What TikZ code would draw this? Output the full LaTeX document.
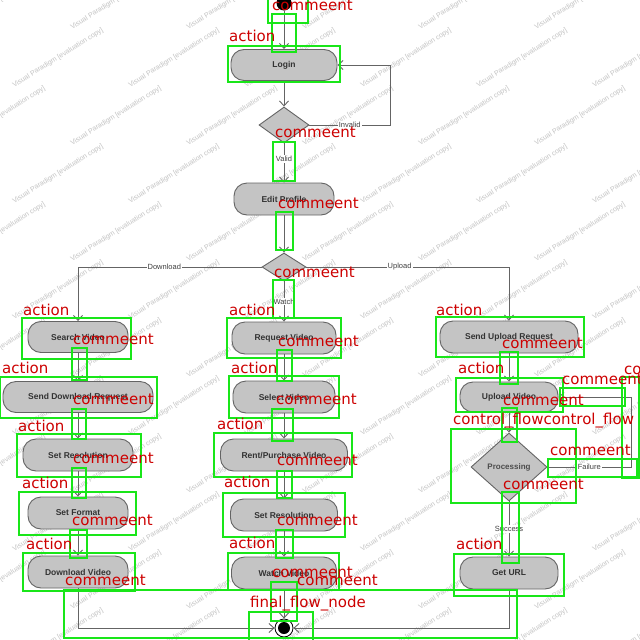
\documentclass[tikz,border=0pt]{standalone}
\usepackage{fontspec}
\setmainfont{Liberation Sans}
\newfontfamily\tagfont{DejaVu Sans}
\usetikzlibrary{arrows.meta,shapes.geometric}
\definecolor{boxgreen}{RGB}{25,230,25}
\definecolor{tagred}{RGB}{205,0,0}
\definecolor{actfill}{RGB}{196,196,196}
\definecolor{flowgray}{RGB}{100,100,100}
\tikzset{
  act/.style={draw=flowgray,fill=actfill,rounded corners=13pt,line width=0.9pt,inner sep=0pt,
    minimum height=31pt,text=black!80,font=\fontsize{8.5}{9}\selectfont\bfseries},
  choice/.style={draw=flowgray,fill=actfill,shape=diamond,line width=0.9pt,inner sep=0pt,aspect=1.2,
    text=black!70,font=\fontsize{8}{9}\selectfont\bfseries},
  flow/.style={draw=flowgray,line width=0.9pt,-{Straight Barb[length=5pt,width=9pt]}},
  guard/.style={fill=white,inner sep=1pt,text=black!75,font=\fontsize{7.5}{8}\selectfont},
  hit/.style={draw=boxgreen,line width=2.6pt},
  tag/.style={text=tagred,anchor=base west,inner sep=0pt,font=\tagfont\fontsize{15}{15}\selectfont},
  wmark/.style={rotate=32,inner sep=0pt,text=black!24,font=\fontsize{7}{7}\selectfont}
}
\begin{document}
\begin{tikzpicture}[x=1pt,y=-1pt]
\useasboundingbox (0,0) rectangle (640,640);
\clip (0,0) rectangle (640,640);
\fill[white] (0,0) rectangle (640,640);
% watermark
\foreach \i in {0,...,5}
  \foreach \j in {0,...,11}
    \node[wmark] (wm-\i-\j) at ({\i*116+mod(\j,2)*58},{\j*58}) {Visual Paradigm [evaluation copy]};

\node[circle,fill=black,minimum size=15pt,inner sep=0pt] (start) at (284,3) {};
\node[act,minimum width=106pt] (login) at (284,65) {Login};
\node[choice,minimum width=50pt,minimum height=36pt] (dec1) at (284,125) {};
\node[act,minimum width=100pt,minimum height=32pt] (edit) at (284,199) {Edit Profile};
\node[choice,minimum width=44pt,minimum height=28pt] (dec2) at (284,267) {};

\node[act,minimum width=100pt] (search) at (78,337) {Search Video};
\node[act,minimum width=150pt] (senddl) at (78,397) {Send Download Request};
\node[act,minimum width=110pt,minimum height=32pt] (setres1) at (78,455) {Set Resolution};
\node[act,minimum width=100pt,minimum height=32pt] (setfmt) at (78,513) {Set Format};
\node[act,minimum width=100pt,minimum height=32pt] (dlvid) at (78,572) {Download Video};

\node[act,minimum width=104pt,minimum height=32pt] (reqvid) at (284,338) {Request Video};
\node[act,minimum width=102pt,minimum height=32pt] (selvid) at (284,397) {Select Video};
\node[act,minimum width=127pt,minimum height=32pt] (rent) at (284,455) {Rent/Purchase Video};
\node[act,minimum width=107pt,minimum height=32pt] (setres2) at (284,515) {Set Resolution};
\node[act,minimum width=105pt,minimum height=32pt] (watch) at (284,573) {Watch Video};

\node[act,minimum width=138pt,minimum height=32pt] (sendup) at (509,337) {Send Upload Request};
\node[act,minimum width=98pt,minimum height=30pt] (upvid) at (509,397) {Upload Video};
\node[choice,minimum width=76pt,minimum height=68pt] (proc) at (509,467) {Processing};
\node[act,minimum width=98pt,minimum height=32pt] (geturl) at (509,573) {Get URL};

\node[circle,draw=black,fill=white,line width=0.8pt,minimum size=18pt,inner sep=0pt] (final) at (284,628) {};
\fill (final) circle (6pt);

\coordinate (invturn) at (390,125);
\coordinate (failturn) at (631,467);
\coordinate (dlturn) at (78,267);
\coordinate (upturn) at (509,267);

\draw[flow] (start) -- (login);
\draw[flow] (login) -- (dec1);
\draw[flow] (dec1.east) -- node[guard]{Invalid} (invturn) |- (login.east);
\draw[flow] (dec1) -- node[guard,pos=0.4]{Valid} (edit);
\draw[flow] (edit) -- (dec2);
\draw[flow] (dec2.west) -- node[guard,pos=0.53]{Download} (dlturn) -- (search.north);
\draw[flow] (dec2.east) -- node[guard,pos=0.46]{Upload} (upturn) -- (sendup.north);
\draw[flow] (dec2) -- node[guard]{Watch} (reqvid);

\draw[flow] (search) -- (senddl);
\draw[flow] (senddl) -- (setres1);
\draw[flow] (setres1) -- (setfmt);
\draw[flow] (setfmt) -- (dlvid);

\draw[flow] (reqvid) -- (selvid);
\draw[flow] (selvid) -- (rent);
\draw[flow] (rent) -- (setres2);
\draw[flow] (setres2) -- (watch);

\draw[flow] (sendup) -- (upvid);
\draw[flow] (upvid) -- (proc);
\draw[flow] (proc.east) -- node[guard]{Failure} (failturn) |- (upvid.east);
\draw[flow] (proc) -- node[guard]{Success} (geturl);

\draw[flow] (dlvid.south) |- (final.west);
\draw[flow] (geturl.south) |- (final.east);
\draw[flow] (watch) -- (final);

% detection boxes
\foreach \a/\b/\c/\d in {268/-2/308/23, 272/14/296/52, 228/46/340/82, 273/142/295/181, 276/212/293/250, 273/280/294/318,
  22/318/131/359, 72/348/87/380, 0/377/157/418, 72/409/86/439, 17/434/141/477, 72/468/86/498, 19/492/136/535,
  70/530/87/558, 23/553/135/591, 64/590/517/638,
  227/318/341/358, 277/350/292/381, 229/376/339/418, 272/409/293/441, 214/433/352/477, 277/471/292/498,
  223/493/345/537, 276/530/293/558, 228/553/339/590, 271/582/297/621, 249/612/313/642,
  436/317/584/357, 500/352/518/384, 456/378/563/412, 560/388/625/406, 622/377/639/478, 548/459/637/477,
  451/429/576/503, 502/408/517/442, 502/492/519/563, 454/554/564/596}
  \draw[hit] (\a,\b) rectangle (\c,\d);

\foreach \x/\y/\t [count=\k] in {272/10/commeent, 229/41/action, 275/137/commeent, 278/208/commeent, 274/277/commeent,
  23/315/action, 229/315/action, 436/315/action,
  73/344/commeent, 278/346/commeent, 502/348/commeent,
  2/373/action, 231/373/action, 458/373/action,
  73/404/commeent, 276/404/commeent, 503/405/commeent,
  562/384/commeent, 624/374/co, 453/424/control\_flowcontrol\_flow,
  18/431/action, 217/429/action, 73/463/commeent, 277/465/commeent, 550/455/commeent, 503/489/commeent,
  22/488/action, 224/487/action, 72/525/commeent, 277/525/commeent,
  26/549/action, 229/548/action, 456/549/action,
  65/585/commeent, 272/577/commeent, 297/585/commeent, 250/607/final\_flow\_node}
  \node[tag] (tag\k) at (\x,\y) {\t};
\end{tikzpicture}
\end{document}
